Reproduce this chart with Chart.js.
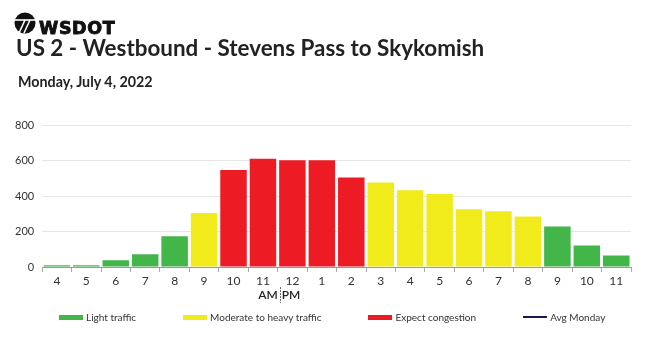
<!DOCTYPE html>
<html><head><meta charset="utf-8">
<script src="https://cdn.jsdelivr.net/npm/chart.js@4.4.0/dist/chart.umd.min.js"></script>
<style>
html,body{margin:0;padding:0;background:#fff;}
body{width:650px;height:337px;position:relative;overflow:hidden;font-family:Lato,sans-serif;color:#222;}
#icon{position:absolute;left:14px;top:12px;}
#brand{position:absolute;left:39px;top:19.5px;font-family:"DejaVu Sans";font-weight:bold;font-size:17.5px;line-height:1;letter-spacing:0.6px;color:#111;-webkit-text-stroke:0.9px #111;}
#title{position:absolute;left:16px;top:37px;font-size:22.4px;font-weight:700;white-space:nowrap;line-height:1;color:#222;}
#subtitle{position:absolute;left:18px;top:74.5px;font-size:14.3px;font-weight:700;line-height:1;color:#222;}
#wrap{position:absolute;left:0;top:0;width:650px;height:337px;}
#legend{position:absolute;left:59px;top:311px;display:flex;font-size:10px;color:#333;white-space:nowrap;line-height:12px;}
.li{display:flex;align-items:center;margin-right:47px;}
.sw{width:24px;height:5px;margin-right:3px;}
</style></head>
<body>
<div id="wrap"><canvas id="c" width="650" height="337"></canvas></div>
<svg id="icon" width="22" height="22" viewBox="0 0 22 22">
  <circle cx="11" cy="11" r="10.5" fill="#111"/>
  <line x1="0" y1="8" x2="22" y2="8" stroke="#fff" stroke-width="1.6"/>
  <line x1="11" y1="8" x2="5" y2="21" stroke="#fff" stroke-width="1.6"/>
  <line x1="16" y1="8" x2="10" y2="21" stroke="#fff" stroke-width="1.6"/>
</svg>
<div id="brand">WSDOT</div>
<div id="title">US 2 - Westbound - Stevens Pass to Skykomish</div>
<div id="subtitle">Monday, July 4, 2022</div>
<div id="legend"></div>
<script>
const hours = ['4','5','6','7','8','9','10','11','12','1','2','3','4','5','6','7','8','9','10','11'];
const volumes = [10,10,38,73,173,305,546,610,602,602,505,476,433,411,326,315,285,228,122,66];
const levels = ['L','L','L','L','L','M','C','C','C','C','C','M','M','M','M','M','M','L','L','L'];
const yTicks = [0,200,400,600,800];
const seriesNames = {L:'Light traffic', M:'Moderate to heavy traffic', C:'Expect congestion'};
const seriesColors = {L:'#43b649', M:'#f2eb1c', C:'#ed1c24'};
const avgLabel = 'Avg Monday';
const avgColor = '#141b4d';
const amIndex = 7; // last AM hour (11)

const datasets = ['L','M','C'].map(code => ({
  type:'bar',
  label: seriesNames[code],
  data: volumes.map((v,i) => levels[i] === code ? v : null),
  backgroundColor: seriesColors[code],
  borderWidth: 0,
  barPercentage: 0.9,
  categoryPercentage: 1.0
}));
datasets.push({type:'line', label:avgLabel, data: hours.map(() => null), borderColor: avgColor, backgroundColor: avgColor, borderWidth: 2, pointRadius: 0});

const ampm = {
  id:'ampm',
  afterDraw(chart){
    const xs = chart.scales.x, ctx = chart.ctx;
    const b = (xs.getPixelForValue(amIndex) + xs.getPixelForValue(amIndex+1)) / 2;
    const y = xs.top + 28;
    ctx.save();
    ctx.font = '600 12px Lato';
    ctx.fillStyle = '#222';
    ctx.textBaseline = 'middle';
    ctx.textAlign = 'right';
    ctx.fillText('AM', b, y);
    ctx.textAlign = 'left';
    ctx.fillText('PM', b + 4, y);
    ctx.strokeStyle = '#666';
    ctx.lineWidth = 1;
    ctx.setLineDash([2,1]);
    ctx.beginPath();
    ctx.moveTo(Math.round(b + 2) + 0.5, y - 8);
    ctx.lineTo(Math.round(b + 2) + 0.5, y + 8);
    ctx.stroke();
    ctx.restore();
  }
};

const chart = new Chart(document.getElementById('c'), {
  data: { labels: hours, datasets },
  options: {
    responsive:false, animation:false,
    layout:{ padding:{ left:7, right:19, top:125, bottom:46.5 } },
    plugins:{ legend:{display:false}, tooltip:{enabled:false} },
    scales:{
      x:{
        stacked:true,
        offset:true,
        grid:{ display:true, drawOnChartArea:false, tickLength:5, color:'#aaa', offset:true },
        border:{ display:true, color:'#999' },
        ticks:{ font:{family:'Lato', size:12}, color:'#333', padding:2, maxRotation:0, autoSkip:false }
      },
      y:{
        stacked:true,
        min:0, max:800,
        afterBuildTicks: axis => { axis.ticks = yTicks.map(v => ({value:v})); },
        grid:{ color:'#e6e6e6', drawTicks:false },
        border:{ display:false },
        ticks:{ font:{family:'Lato', size:11}, color:'#333', padding:8 }
      }
    }
  },
  plugins:[ampm]
});

const leg = document.getElementById('legend');
chart.data.datasets.forEach(ds => {
  const it = document.createElement('div'); it.className = 'li';
  const sw = document.createElement('span'); sw.className = 'sw';
  sw.style.background = ds.type === 'line' ? ds.borderColor : ds.backgroundColor;
  if (ds.type === 'line') { sw.style.height = '2px'; }
  const t = document.createElement('span'); t.textContent = ds.label;
  it.appendChild(sw); it.appendChild(t); leg.appendChild(it);
});
</script>
</body></html>
